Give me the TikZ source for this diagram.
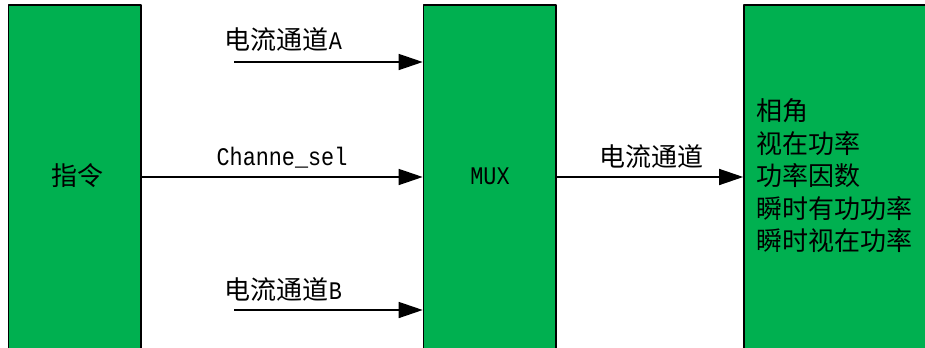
\documentclass[tikz,border=0pt]{standalone}
\usepackage{fontspec}
\setmainfont{Liberation Mono}
\newfontfamily\cjk{Noto Sans CJK SC}
\newfontfamily\lat[FakeStretch=0.86]{Liberation Mono}
\usetikzlibrary{arrows.meta}
\definecolor{boxgreen}{RGB}{0,176,80}
\begin{document}
\begin{tikzpicture}[x=0.75pt,y=-0.75pt,line join=round,
	>={Triangle[length=18pt,width=12pt]},
	blk/.style={draw=black,line width=1.2pt,fill=boxgreen,inner sep=0pt,minimum height=266.25pt},
	lbl/.style={inner sep=0pt,font=\fontsize{19.5}{24.4}\cjk},
	latlbl/.style={inner sep=0pt,font=\fontsize{19}{22}\lat},
	arr/.style={->,line width=1.1pt}]
	\useasboundingbox (0,0) rectangle (925,347);
	\clip (0,0) rectangle (925,347);
	%%%%%%%%%%%%%%%
	\node[blk,minimum width=99.4pt] (cmd) at (74.75,182.5) {};
	\node[blk,minimum width=99.4pt] (mux) at (489.75,182.5) {};
	\node[blk,minimum width=150pt] (out) at (844,182.5) {};
	%%%%%%%%%%%%%%%
	\node[lbl] (cmdtxt) at (77,176) {指令};
	\node[latlbl] (muxtxt) at (490,176) {MUX};
	\node[lbl,anchor=west,align=left] (outtxt) at (756,176)
	{相角\\视在功率\\功率因数\\瞬时有功功率\\瞬时视在功率};
	%%%%%%%%%%%%%%%
	\coordinate (inA) at (234,62);
	\coordinate (inB) at (234,310);
	\draw[arr] (inA) -- (mux.west |- inA);
	\draw[arr] (cmd.east |- 0,177) -- (mux.west |- 0,177);
	\draw[arr] (inB) -- (mux.west |- inB);
	\draw[arr] (mux.east |- 0,177) -- (out.west |- 0,177);
	%%%%%%%%%%%%%%%
	\node[lbl] (labA) at (283.5,40) {电流通道{\fontsize{19}{22}\lat A}};
	\node[latlbl,anchor=base] (labsel) at (282,165) {Channe\_sel};
	\node[lbl] (labB) at (283.5,290) {电流通道{\fontsize{19}{22}\lat B}};
	\node[lbl] (labout) at (651,157) {电流通道};
\end{tikzpicture}
\end{document}
